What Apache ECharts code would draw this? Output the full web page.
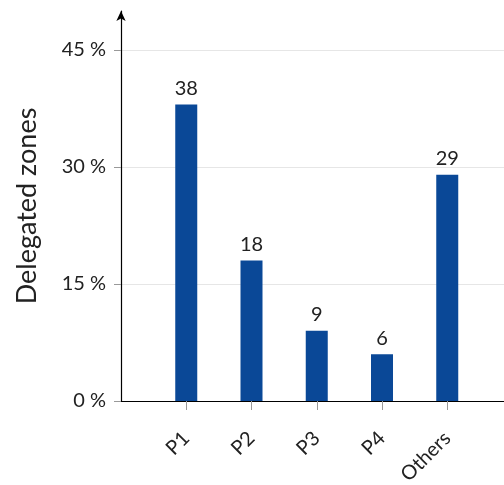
<!DOCTYPE html>
<html><head><meta charset="utf-8">
<script src="https://cdn.jsdelivr.net/npm/echarts@6/dist/echarts.min.js"></script>
<style>html,body{margin:0;padding:0;background:#fff}#c{width:504px;height:485px}</style>
</head><body><div id="c"></div>
<script>
const categories = ['P1', 'P2', 'P3', 'P4', 'Others'];
const values = [38, 18, 9, 6, 29];
const yTicks = [0, 15, 30, 45];
const yName = 'Delegated zones';

const font = 'Lato, "DejaVu Sans", sans-serif';
const cats = [''].concat(categories, ['']);
const vals = ['-'].concat(values, ['-']);
const chart = echarts.init(document.getElementById('c'), null, {renderer: 'canvas'});
chart.setOption({
  animation: false,
  grid: {left: 121, width: 391.5, top: 11, bottom: 84, containLabel: false, outerBoundsMode: 'none'},
  xAxis: {
    type: 'category', data: cats, boundaryGap: false,
    axisLine: {lineStyle: {color: '#000', width: 1.2}},
    axisTick: {show: true, length: 9, lineStyle: {color: '#999'},
      interval: function (i) { return i >= 1 && i <= categories.length; }},
    axisLabel: {rotate: 45, fontSize: 20, color: '#222', fontFamily: font, margin: 34, interval: 0}
  },
  yAxis: {
    type: 'value', min: 0, max: 50, interval: 15,
    name: yName, nameLocation: 'middle', nameGap: 80,
    nameTextStyle: {fontSize: 27, color: '#222', fontFamily: font},
    axisLine: {show: true, symbol: ['none', 'arrow'], symbolSize: [7, 10], symbolOffset: [0, 0], lineStyle: {color: '#000', width: 1.2}},
    axisTick: {show: true, length: 7, lineStyle: {color: '#999'}},
    axisLabel: {fontSize: 20, color: '#222', fontFamily: font, margin: 15, showMaxLabel: false,
      formatter: function (v) { return yTicks.indexOf(v) >= 0 ? v + ' %' : ''; }},
    splitLine: {show: true, showMaxLine: false, lineStyle: {color: '#e6e6e6'}}
  },
  series: [{
    type: 'bar', data: vals, barWidth: 22,
    itemStyle: {color: '#0a4897'},
    label: {show: true, position: 'top', distance: 6, fontSize: 20, color: '#222', fontFamily: font}
  }]
});
</script></body></html>
